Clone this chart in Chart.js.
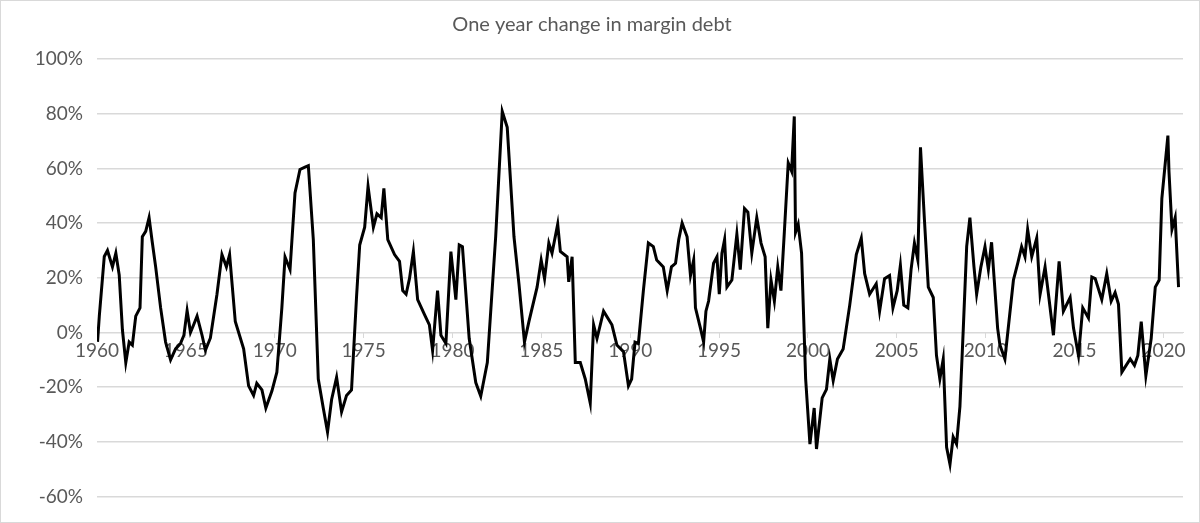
<!DOCTYPE html>
<html>
<head>
<meta charset="utf-8">
<script src="https://cdn.jsdelivr.net/npm/chart.js@4"></script>
<style>
  html, body { margin: 0; padding: 0; background: #fff; }
  #wrap { width: 1198px; height: 521px; border: 1px solid #d9d9d9; }
</style>
</head>
<body>
<div id="wrap"><canvas id="chart" width="1198" height="521"></canvas></div>
<script>
// Variação anual da dívida de margem
const years = [
  1960.03, 1960.13, 1960.41, 1960.59, 1960.87, 1961.06, 1961.25, 1961.43, 1961.62, 1961.81,
  1961.99, 1962.18, 1962.42, 1962.55, 1962.74, 1962.93, 1963.11, 1963.3, 1963.58, 1963.86,
  1964.14, 1964.42, 1964.7, 1964.89, 1965.07, 1965.26, 1965.45, 1965.63, 1965.91, 1966.1,
  1966.38, 1966.75, 1967.03, 1967.28, 1967.46, 1967.78, 1968.25, 1968.53, 1968.81, 1968.99,
  1969.28, 1969.5, 1969.84, 1970.12, 1970.4, 1970.58, 1970.86, 1971.14, 1971.42, 1971.7,
  1971.89, 1972.17, 1972.45, 1972.73, 1972.97, 1973.2, 1973.48, 1973.76, 1974.04, 1974.32,
  1974.6, 1974.78, 1975.06, 1975.25, 1975.55, 1975.75,
  1975.99, 1976.14, 1976.36, 1976.74, 1977.02, 1977.2, 1977.39, 1977.58, 1977.8, 1978.04,
  1978.42, 1978.7, 1978.88, 1979.16, 1979.35, 1979.63, 1979.91, 1980.19, 1980.38, 1980.56,
  1980.94, 1981.31, 1981.59, 1981.96, 1982.43, 1982.8, 1983.08, 1983.46, 1983.74, 1984.05,
  1984.3, 1984.76, 1984.99, 1985.18, 1985.42, 1985.6, 1985.92, 1986.07, 1986.45, 1986.54,
  1986.73, 1986.91, 1987.19, 1987.47, 1987.75, 1987.94, 1988.13, 1988.5, 1988.97, 1989.25,
  1989.62, 1989.9, 1990.08, 1990.27, 1990.46, 1990.74, 1991.02, 1991.3, 1991.49, 1991.86,
  1992.08, 1992.32, 1992.55, 1992.73, 1992.92, 1993.2, 1993.39, 1993.57, 1993.67, 1993.95,
  1994.13, 1994.26, 1994.41, 1994.69, 1994.88, 1995.01, 1995.16, 1995.31, 1995.44, 1995.72,
  1996.0, 1996.19, 1996.43, 1996.62, 1996.84, 1997.12, 1997.36, 1997.59, 1997.74, 1997.92,
  1998.11, 1998.3, 1998.48, 1998.67, 1998.89, 1999.08, 1999.23, 1999.3, 1999.45, 1999.64,
  1999.87, 2000.11, 2000.35, 2000.48, 2000.8, 2001.04, 2001.23, 2001.42, 2001.66, 2001.98,
  2002.35, 2002.72, 2003.0, 2003.19, 2003.47, 2003.84, 2004.03, 2004.31, 2004.59, 2004.78,
  2005.02, 2005.2, 2005.39, 2005.62, 2005.8, 2005.99, 2006.18, 2006.33, 2006.55,
  2006.77, 2007.05, 2007.23, 2007.42, 2007.61, 2007.8, 2007.99, 2008.17, 2008.36, 2008.55,
  2008.74, 2008.93, 2009.11, 2009.34, 2009.49, 2009.73, 2009.96, 2010.15, 2010.33, 2010.48,
  2010.67, 2010.8, 2011.08, 2011.56, 2011.8, 2012.02, 2012.21, 2012.36, 2012.59, 2012.87,
  2013.06, 2013.34, 2013.53, 2013.81, 2014.13, 2014.37, 2014.75, 2014.94, 2015.22, 2015.46,
  2015.78, 2015.97, 2016.16, 2016.53, 2016.81, 2017.06, 2017.28, 2017.47, 2017.66, 2018.13,
  2018.37, 2018.56, 2018.75, 2019.01, 2019.31, 2019.54, 2019.76, 2019.91, 2020.25, 2020.31,
  2020.48, 2020.66, 2020.85, 2021.04
];
const change = [
  -3.4, 6, 27.8, 30, 24, 29, 21, 1, -11, -3.5,
  -4.6, 6, 9, 35, 37, 42, 33, 24, 9, -3.5,
  -10, -6, -4, -1, 8, 0, 3, 6, -1, -6.5,
  -2, 14, 28.5, 24, 28.5, 4, -6, -19.5, -23, -18.6,
  -21, -27.6, -21.4, -14.5, 9, 27.6, 23, 51, 59.6, 60.5,
  61, 34, -17, -27.6, -36.4, -24.5, -16.4, -29, -23, -21,
  12.8, 32, 38.5, 53.4, 38.5, 43.4,
  42, 52.7, 34, 28.5, 26, 15.3, 14, 19.7, 29.6, 12,
  6.6, 2.8, -6.5, 15.3, -1, -4, 29.6, 12, 32, 31.4,
  -2.2, -18.3, -23.3, -11, 35, 80.8, 75, 35, 17.8, -3.5,
  4, 16.6, 26.5, 19.7, 32.7, 29, 39.6, 29.6, 27.7, 18.5,
  27.7, -11, -11, -17, -25.8, 2.8, -2.2, 7.8, 2.8, -4.6,
  -7, -19.5, -17, -3.5, -4, 15.3, 32.7, 31.4, 26.5, 24,
  15.3, 24, 25.3, 34, 40, 35, 20.8, 26.5, 9, 1.6,
  -3.5, 7.8, 11.5, 25.3, 27.7, 14, 29, 34, 16.6, 19.2,
  36, 23, 45.3, 44, 29, 42, 32.7, 27.7, 1.6, 19.2,
  11.5, 24, 15.3, 36.6, 62, 59, 79, 36.6, 39.6, 29,
  -17, -40.8, -27.6, -42.6, -23.9, -20.8, -9.7, -17.6, -9.7, -6,
  10, 28.5, 34.5, 21.5, 14, 17.8, 7.8, 19.7, 20.8, 9,
  15.3, 24.6, 10, 9, 23, 32.7, 26.5, 67.7, 41.5,
  16.6, 12.8, -8.4, -17, -9.7, -42, -48.2, -38.2, -40.8, -27,
  1.6, 31.5, 42, 24, 14, 24, 31.4, 23, 33, 19.2,
  1.6, -4.6, -9.7, 19.2, 25.3, 31.4, 27.7, 37.7, 27.7, 34.5,
  14, 24, 14, -1, 26, 7.8, 12.8, 1.6, -8.4, 9,
  5.3, 20.3, 19.7, 12, 21.5, 11.5, 14.6, 10.3, -14.5, -9.7,
  -12, -8.4, 4, -15.8, -2.2, 16.6, 19.2, 49, 72, 59,
  37.7, 42, 16.6
];
const yTicks = [-60, -40, -20, 0, 20, 40, 60, 80, 100];
const xTicks = [1960, 1965, 1970, 1975, 1980, 1985, 1990, 1995, 2000, 2005, 2010, 2015, 2020];

const fonte = "Lato, 'Open Sans', sans-serif";
const cinza = '#595959';

const pontos = years.map((ano, i) => ({ x: ano, y: change[i] }));

new Chart(document.getElementById('chart').getContext('2d'), {
  type: 'line',
  data: {
    datasets: [{
      label: 'One year change in margin debt',
      data: pontos,
      borderColor: '#000',
      borderWidth: 3,
      pointRadius: 0,
      tension: 0,
      fill: false
    }]
  },
  options: {
    responsive: false,
    animation: false,
    layout: { padding: { left: 0, right: 16, top: 0, bottom: 14 } },
    plugins: {
      legend: { display: false },
      tooltip: { enabled: false },
      title: {
        display: true,
        text: 'One year change in margin debt',
        color: cinza,
        font: { family: fonte, size: 20, weight: 'normal' },
        padding: { top: 12, bottom: 22 }
      }
    },
    scales: {
      x: {
        type: 'linear',
        min: 1960,
        max: 2021.1,
        position: { y: 0 },
        afterBuildTicks: (axis) => { axis.ticks = xTicks.map(v => ({ value: v })); },
        ticks: {
          color: cinza,
          font: { family: fonte, size: 19 },
          padding: 2,
          maxRotation: 0,
          autoSkip: false,
          callback: (v) => String(v)
        },
        grid: { display: true, drawOnChartArea: false, tickLength: 5, color: '#d9d9d9' },
        border: { display: true, color: '#d9d9d9', width: 1 }
      },
      y: {
        min: -60,
        max: 100,
        afterBuildTicks: (axis) => { axis.ticks = yTicks.map(v => ({ value: v })); },
        afterFit: (axis) => { axis.width = 96; },
        ticks: {
          color: cinza,
          font: { family: fonte, size: 19 },
          padding: 14,
          callback: (v) => v + '%'
        },
        grid: { color: '#d9d9d9', lineWidth: 1.5, drawTicks: false },
        border: { display: false }
      }
    }
  }
});
</script>
</body>
</html>
